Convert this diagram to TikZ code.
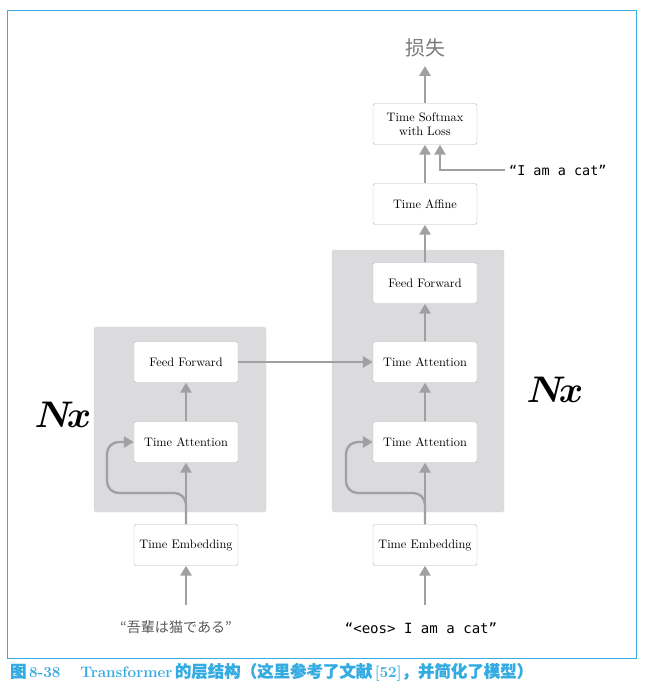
\documentclass[tikz,border=0pt]{standalone}
\usepackage{amsmath}
\usepackage{fontspec}
\newfontfamily\cjksc{Noto Sans CJK SC}
\newfontfamily\capcjk[Scale=1.08, FakeBold=0.4]{Noto Sans CJK SC}
\newfontfamily\cjkjp{Noto Sans CJK JP}
\setmonofont{DejaVu Sans Mono}
\usepackage{tikz}
\usetikzlibrary{arrows.meta,calc}
\definecolor{framecyan}{RGB}{52, 172, 226}
\definecolor{blockgray}{RGB}{219, 219, 221}
\definecolor{arrowgray}{RGB}{160, 160, 162}
\definecolor{textgray}{RGB}{90, 90, 90}

\tikzset{
    layer/.style={draw=gray!55, fill=white, rounded corners=1.5pt,
                  minimum width=3.12cm, minimum height=1.23cm,
                  align=center, font=\fontsize{10.5}{12}\selectfont},
    flow/.style={draw=arrowgray, line width=2pt,
                 -{Triangle[width=9.5pt,length=8.5pt]}},
    repeat/.style={font=\fontsize{24.88}{28}\selectfont, scale=1.27}
}

\begin{document}
\begin{tikzpicture}[x=0.03cm, y=-0.03cm]
            \useasboundingbox (0,0) rectangle (646,688);
            % Frame
            \draw[framecyan, line width=0.8pt] (7,10) rectangle (636,658);
            % Gray blocks
            \filldraw[draw=gray!30, fill=blockgray, rounded corners=2pt] ( 94,327) rectangle (266,512);
            \filldraw[draw=gray!30, fill=blockgray, rounded corners=2pt] (332,250) rectangle (504,512);
            % Encoder side
            \node[layer] (emb1) at (186,545) {Time Embedding};
            \node[layer] (att1) at (186,442) {Time Attention};
            \node[layer] (ff1)  at (186,362) {Feed Forward};
            \node[textgray, font=\cjkjp\fontsize{12}{14}\selectfont] (src) at (176,627) {“吾輩は猫である”};
            \node[repeat] (nx1) at (63,415) {$\boldsymbol{N\!x}$};
            % Decoder side
            \node[layer] (emb2) at (425,545) {Time Embedding};
            \node[layer] (att2) at (425,442) {Time Attention};
            \node[layer] (att3) at (425,362) {Time Attention};
            \node[layer] (ff2)  at (425,283) {Feed Forward};
            \node[layer] (aff)  at (425,204) {Time Affine};
            \node[layer] (soft) at (425,124) {Time Softmax\\with Loss};
            \node[font=\ttfamily\fontsize{12}{14}\selectfont] (dst) at (421,628) {“<eos> I am a cat”};
            \node[font=\ttfamily\fontsize{11.5}{14}\selectfont, anchor=west] (cat) at (505,170) {“I am a cat”};
            \node[textgray!80, font=\cjksc\fontsize{17}{20}\selectfont] (loss) at (425,48) {损失};
            \node[repeat] (nx2) at (555,390) {$\boldsymbol{N\!x}$};
            % Skip points
            \coordinate (skip1) at (107,493);
            \coordinate (skip2) at (346,493);
            \coordinate (srctop) at (186,605);
            \coordinate (dsttop) at (425,605);
            \coordinate (losstop) at (425,66);
            % Connectors
            \draw[flow] (srctop) -- (emb1.south);
            \draw[flow] (emb1.north) -- (att1.south);
            \draw[flow, rounded corners=10pt] (emb1.north) |- (skip1) |- (att1.west);
            \draw[flow] (att1.north) -- (ff1.south);
            \draw[flow] (ff1.east) -- (att3.west);
            \draw[flow] (dsttop) -- (emb2.south);
            \draw[flow] (emb2.north) -- (att2.south);
            \draw[flow, rounded corners=10pt] (emb2.north) |- (skip2) |- (att2.west);
            \draw[flow] (att2.north) -- (att3.south);
            \draw[flow] (att3.north) -- (ff2.south);
            \draw[flow] (ff2.north) -- (aff.south);
            \draw[flow] (aff.north) -- (soft.south);
            \draw[flow] (cat.west) -| ($(soft.south)+(15,0)$);
            \draw[flow] (soft.north) -- (losstop);
            % Caption
            \node[anchor=west, text=framecyan, font=\bfseries\fontsize{13}{15}\selectfont] (caption) at (6,672)
                 {{\capcjk 图}\,8-38\hspace{1.3em}Transformer\,{\capcjk 的层结构（这里参考了文献}\,[52]{\capcjk ，并简化了模型）}};
        \end{tikzpicture}
\end{document}
